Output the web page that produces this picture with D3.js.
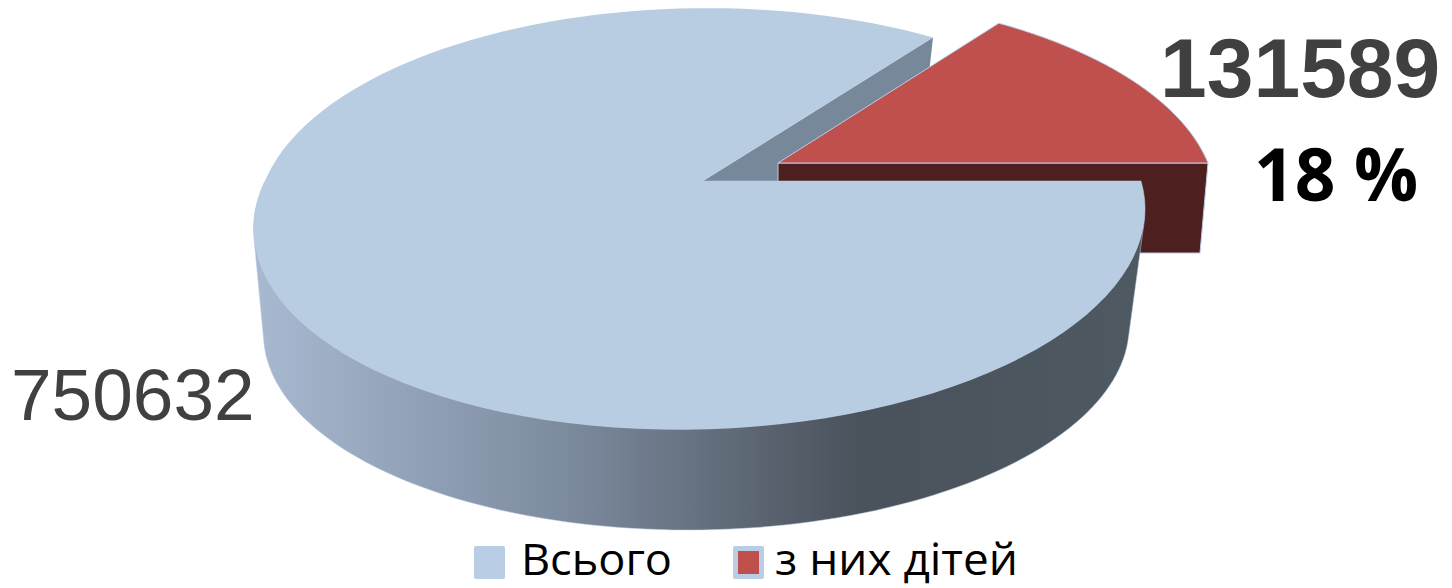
<!DOCTYPE html>
<html>
<head>
<meta charset="utf-8">
<script src="https://cdn.jsdelivr.net/npm/d3@7"></script>
<style>
  html, body { margin: 0; padding: 0; background: #fff; }
  svg { display: block; }
</style>
</head>
<body>
<script>
var categories = ["Всього", "з них дітей"];
var values = [750632, 131589];
var percentLabel = "18 %";
var legendX = [521, 775];
var legendWidths = [151, 243];

var width = 1452;
var height = 588;

const canvas = d3.select("body")
    .append("svg")
    .attr("width", width)
    .attr("height", height);

// the pie lies flat, seen in perspective: turn (angle, radius) into screen x,y
// front/back lean the far and near halves a little, like the original render
function flat(o) {
    return function (angle, r) {
        var u = r * Math.sin(angle);
        var v = -r * Math.cos(angle);
        var w = 1 - o.p * v;
        var lean = v > 0 ? o.front * v : o.back * v;
        return [o.cx + (o.a * u + lean) / w, o.cy + o.k * v / w];
    };
}
const blueTop = flat({ cx: 703, cy: 181, a: 438, front: -20, back: -5, k: 204, p: 0.18 });
const blueBottom = flat({ cx: 698, cy: 290, a: 424, front: -8, back: -8, k: 192, p: 0.2 });
const redTop = flat({ cx: 778, cy: 163, a: 430, front: 0, back: 0, k: 200, p: 0.19 });
const redBottom = flat({ cx: 778, cy: 253, a: 422, front: 0, back: 0, k: 196, p: 0.19 });

const slices = d3.pie().sort(null)
    .startAngle(Math.PI / 2)
    .endAngle(Math.PI * 2.5)(values);
const blue = slices[0];
const red = slices[1];

function arcPoints(proj, a0, a1) {
    return d3.range(0, 121).map(function (i) {
        return proj(a0 + (a1 - a0) * i / 120, 1);
    });
}
const line = d3.line();
function closed(pts) { return line(pts) + "Z"; }

const edge = "#b9cde5";

const grad = canvas.append("defs").append("linearGradient")
    .attr("id", "side")
    .attr("gradientUnits", "userSpaceOnUse")
    .attr("x1", 253).attr("x2", 1143).attr("y1", 0).attr("y2", 0);
grad.selectAll("stop")
    .data([[0, "#a8b9d1"], [0.35, "#7d8b9f"], [0.68, "#4a525b"], [1, "#4e5961"]])
    .enter()
    .append("stop")
    .attr("offset", function (d) { return d[0]; })
    .attr("stop-color", function (d) { return d[1]; });

// back cut face of the big slice
canvas.append("path")
    .attr("d", closed([blueTop(0, 0), blueTop(blue.endAngle, 1), blueBottom(blue.endAngle, 1), blueBottom(0, 0)]))
    .attr("fill", "#77889a");

// detached red slice: front wall then top
canvas.append("path")
    .attr("d", closed([redTop(0, 0), redTop(red.endAngle, 1), redBottom(red.endAngle, 1), redBottom(0, 0)]))
    .attr("fill", "#4d1f1e")
    .attr("stroke", edge)
    .attr("stroke-width", 1);
canvas.append("path")
    .attr("d", closed([redTop(0, 0)].concat(arcPoints(redTop, red.startAngle, red.endAngle))))
    .attr("fill", "#c0504d")
    .attr("stroke", edge)
    .attr("stroke-width", 1);

// round wall of the big slice, front half only
const hull = d3.polygonHull(
    arcPoints(blueTop, Math.PI / 2, Math.PI * 1.5)
        .concat(arcPoints(blueBottom, Math.PI / 2, Math.PI * 1.5)));
canvas.append("path")
    .attr("d", closed(hull))
    .attr("fill", "url(#side)")
    .attr("stroke", edge)
    .attr("stroke-width", 0.5);

// top of the big slice
canvas.append("path")
    .attr("d", closed([blueTop(0, 0)].concat(arcPoints(blueTop, blue.startAngle, blue.endAngle))))
    .attr("fill", "#b9cde2");

// value labels
canvas.append("text")
    .attr("x", 1160).attr("y", 97)
    .attr("font-family", "Liberation Sans")
    .attr("font-weight", "bold")
    .attr("font-size", 84)
    .attr("fill", "#404040")
    .text(values[1]);
canvas.append("text")
    .attr("x", 1254).attr("y", 201)
    .attr("font-family", "Open Sans")
    .attr("font-weight", "bold")
    .attr("font-size", 74)
    .attr("textLength", 164)
    .attr("lengthAdjust", "spacingAndGlyphs")
    .attr("fill", "#000")
    .text(percentLabel);
canvas.append("text")
    .attr("x", 11).attr("y", 420)
    .attr("font-family", "Liberation Sans")
    .attr("font-size", 73)
    .attr("fill", "#404040")
    .text(values[0]);

// legend
const legend = canvas.selectAll(".legend")
    .data(categories)
    .enter()
    .append("g")
    .attr("class", "legend");
legend.append("rect")
    .attr("x", function (d, i) { return i ? 733 : 474; })
    .attr("y", 546)
    .attr("width", 31)
    .attr("height", 33)
    .attr("rx", 2)
    .attr("fill", "#b9cde5");
legend.filter(function (d, i) { return i === 1; })
    .append("rect")
    .attr("x", 738).attr("y", 551)
    .attr("width", 21).attr("height", 23)
    .attr("fill", "#c0504d");
legend.append("text")
    .attr("x", function (d, i) { return legendX[i]; })
    .attr("y", 575)
    .attr("font-family", "Open Sans")
    .attr("font-size", 43)
    .attr("textLength", function (d, i) { return legendWidths[i]; })
    .attr("lengthAdjust", "spacingAndGlyphs")
    .attr("fill", "#000")
    .text(function (d) { return d; });
</script>
</body>
</html>
